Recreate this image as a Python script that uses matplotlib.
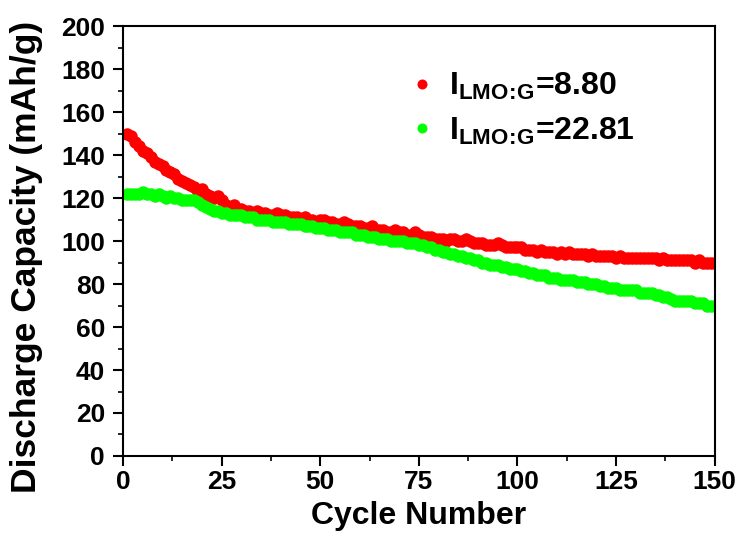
import matplotlib
matplotlib.use("Agg")
import matplotlib.pyplot as plt
from matplotlib.ticker import MultipleLocator

plt.rcParams['font.family'] = ['Liberation Sans', 'DejaVu Sans']
plt.rcParams['font.weight'] = 'bold'
plt.rcParams['mathtext.fontset'] = 'custom'
plt.rcParams['mathtext.rm'] = 'Liberation Sans:bold'
plt.rcParams['mathtext.bf'] = 'Liberation Sans:bold'
plt.rcParams['mathtext.it'] = 'Liberation Sans:bold'

cycles = list(range(1, 151))

red_capacity = [
    150, 149, 146, 144, 142, 141, 139, 137, 136, 135,
    133, 132, 131, 129, 128, 127, 126, 125, 123, 124,
    122, 121, 120, 121, 119, 117, 116, 117, 115, 115,
    114, 114, 113, 114, 113, 113, 112, 112, 113, 112,
    112, 111, 111, 111, 110, 111, 110, 110, 109, 110,
    110, 109, 109, 108, 108, 109, 108, 107, 107, 107,
    106, 106, 107, 105, 105, 105, 104, 104, 105, 104,
    104, 103, 103, 104, 103, 102, 102, 102, 101, 101,
    101, 100, 101, 101, 100, 100, 101, 100, 99, 99,
    99, 98, 98, 98, 99, 98, 97, 97, 97, 97,
    97, 96, 96, 96, 95, 96, 95, 95, 95, 94,
    95, 94, 95, 94, 94, 94, 94, 93, 94, 93,
    93, 93, 93, 93, 92, 93, 92, 92, 92, 92,
    92, 92, 92, 92, 92, 91, 92, 91, 91, 91,
    91, 91, 91, 91, 90, 91, 90, 90, 90, 90,
]

green_capacity = [
    122, 122, 122, 122, 123, 122, 122, 121, 122, 121,
    120, 121, 120, 120, 119, 119, 119, 119, 118, 117,
    116, 115, 114, 114, 113, 113, 112, 112, 112, 112,
    111, 111, 111, 110, 110, 110, 110, 109, 109, 109,
    109, 108, 108, 108, 108, 107, 107, 107, 106, 106,
    106, 105, 105, 105, 104, 104, 104, 104, 103, 103,
    103, 102, 102, 102, 101, 101, 101, 100, 100, 100,
    100, 99, 99, 99, 98, 98, 97, 97, 96, 96,
    95, 95, 94, 94, 93, 93, 92, 92, 91, 91,
    90, 90, 89, 89, 89, 88, 88, 87, 87, 87,
    86, 86, 85, 85, 84, 84, 84, 83, 83, 83,
    82, 82, 82, 82, 81, 81, 81, 80, 80, 80,
    79, 79, 78, 78, 78, 77, 77, 77, 77, 77,
    76, 76, 76, 76, 75, 75, 74, 74, 73, 72,
    72, 72, 72, 72, 71, 71, 71, 70, 70, 70,
]

labels = [r'$\mathregular{I_{LMO\!:\!G}}$=8.80', r'$\mathregular{I_{LMO\!:\!G}}$=22.81']
x_ticks = [0, 25, 50, 75, 100, 125, 150]
y_ticks = [0, 20, 40, 60, 80, 100, 120, 140, 160, 180, 200]

fig = plt.figure(figsize=(7.46, 5.33), dpi=100)
ax = fig.add_axes([0.165, 0.1445, 0.793, 0.8065])

ax.plot(cycles, red_capacity, 'o', color='#ff0000', markersize=9, markeredgewidth=0, label=labels[0])
ax.plot(cycles, green_capacity, 'o', color='#00ff00', markersize=9, markeredgewidth=0, label=labels[1])

ax.set_xlim(0, 150)
ax.set_ylim(0, 200)
ax.set_xticks(x_ticks)
ax.set_yticks(y_ticks)
ax.xaxis.set_minor_locator(MultipleLocator(12.5))
ax.yaxis.set_minor_locator(MultipleLocator(10))
ax.tick_params(which='major', direction='out', length=7, width=1.5, labelsize=19, pad=3)
ax.tick_params(axis='y', which='major', pad=6)
ax.tick_params(which='minor', direction='out', length=3.5, width=1.2)
for s in ax.spines.values():
    s.set_linewidth(1.5)
for lab in ax.get_xticklabels() + ax.get_yticklabels():
    lab.set_fontweight('bold')

ax.set_xlabel('Cycle Number', fontsize=23, fontweight='bold', labelpad=5)
ax.set_ylabel('Discharge Capacity (mAh/g)', fontsize=25.5, fontweight='bold')
ax.yaxis.set_label_coords(-0.135, 0.463)

leg = ax.legend(loc='upper left', bbox_to_anchor=(0.457, 0.925), frameon=False,
                fontsize=23, markerscale=0.8, handletextpad=0.35, labelspacing=0.42,
                handlelength=1.0, borderaxespad=0)
for t in leg.get_texts():
    t.set_fontweight('bold')

fig.savefig('out.png', dpi=100)
